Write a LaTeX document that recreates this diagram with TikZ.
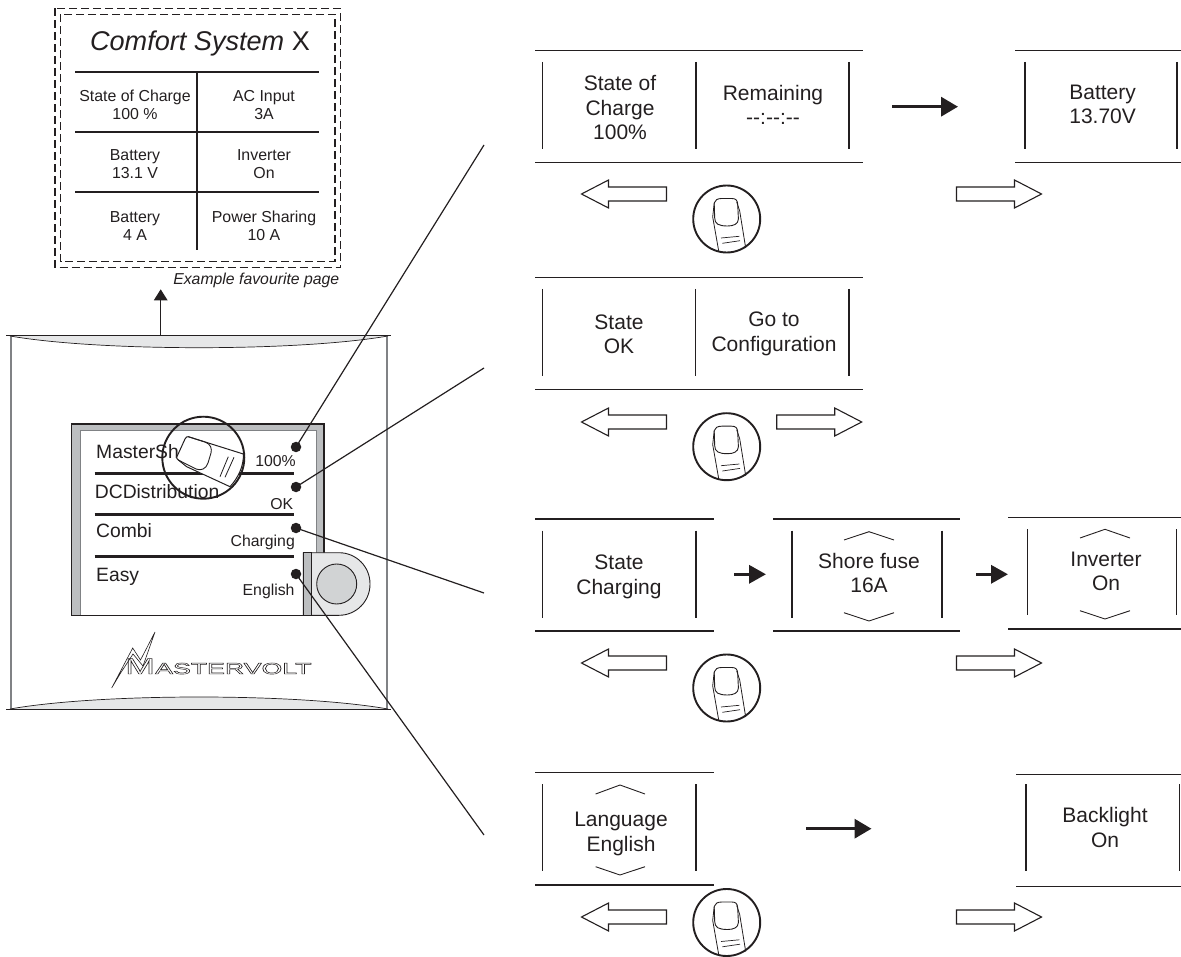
\documentclass[tikz,border=0pt]{standalone}
\usepackage{fontspec}
\usepackage{graphicx}
\setmainfont{Liberation Sans}
\usetikzlibrary{arrows.meta}
\definecolor{ink}{HTML}{231F20}
\definecolor{lensgray}{HTML}{E6E7E8}
\definecolor{bezel}{HTML}{BCBEC0}
\definecolor{knob}{HTML}{D1D3D4}
\definecolor{sidegray}{HTML}{808285}
\newcommand{\outlined}[1]{\special{pdf:code 1 Tr 0.45 w}#1\special{pdf:code 0 Tr}}
\tikzset{
  rule/.style={draw=ink,line width=1.3pt},
  tick/.style={draw=ink,line width=1.3pt},
  chev/.style={draw=ink,line width=0.9pt},
  lbl/.style={inner sep=0pt,align=center,text=ink,font=\fontsize{21}{24.5}\selectfont},
  tbl/.style={inner sep=0pt,align=center,text=ink,font=\fontsize{15.9}{18}\selectfont},
  devl/.style={inner sep=0pt,anchor=base west,text=ink,font=\fontsize{19.3}{22}\selectfont},
  devr/.style={inner sep=0pt,anchor=base east,text=ink,font=\fontsize{15.8}{18}\selectfont},
  blackarrow/.style={draw=ink,line width=3.4pt,-{Triangle[length=17pt,width=19pt,fill=ink]}},
  smallarrow/.style={draw=ink,line width=3.4pt,-{Triangle[length=17pt,width=18pt,fill=ink]}},
  leader/.style={draw=ink,line width=1.2pt},
  dashbox/.style={draw=ink,line width=1.4pt,dash pattern=on 8pt off 4pt},
  tblrule/.style={draw=ink,line width=2.2pt},
  thickrule/.style={draw=ink,line width=3.4pt},
  dot/.style={circle,fill=ink,inner sep=0pt,minimum size=10.5pt},
  openarrow/.pic={
    \draw[ink,line width=1.1pt,fill=white,line join=miter]
      (0,0) -- (27,-14) -- (27,-7) -- (85,-7) -- (85,7) -- (27,7) -- (27,14) -- cycle;
  },
  fingerpic/.pic={
    \draw[ink,line width=1.9pt] (0,0) circle[radius=33.5];
    \draw[ink,line width=0.8pt] (-12.5,-16) -- (-14,-2) -- (-8,32);
    \draw[ink,line width=0.8pt] (10,-17) -- (13,-8) -- (19,29);
    \draw[ink,line width=0.9pt] (-12.5,-16) .. controls (-12,-19) and (-9,-20.5) .. (-5,-20.5)
      -- (5,-20.5) .. controls (9,-20.5) and (10.5,-19) .. (11,-15)
      -- (11.7,0) .. controls (11.5,5) and (7,7) .. (1,7)
      .. controls (-8,7) and (-12,5) .. (-12,-1) -- cycle;
    \draw[ink,line width=0.7pt] (-5.7,19) -- (12.7,17.3);
    \draw[ink,line width=0.7pt] (-4.3,24.3) -- (13.3,21.7);
  }
}
\begin{document}
\begin{tikzpicture}[x=1pt,y=-1pt]
\useasboundingbox (0,0) rectangle (1181,957);

% favourite page
\draw[dashbox] (55,8.3) rectangle (340.7,267.7);
\draw[dashbox] (60.7,14.3) rectangle (335,261.7);
\node[inner sep=0pt,anchor=base,text=ink,font=\fontsize{27.1}{30}\selectfont] (title) at (200,50.7) {\textit{Comfort System} X};
\draw[tblrule] (75,71.7) -- (319.3,71.7);
\draw[tblrule] (75,132) -- (319.3,132);
\draw[tblrule] (75,191.7) -- (319.3,191.7);
\draw[tblrule] (197.3,71.7) -- (197.3,250);
\node[tbl] (t11) at (135,106.5) {\strut State of Charge\\\strut 100 \%};
\node[tbl] (t12) at (264,106.5) {\strut AC Input\\\strut 3A};
\node[tbl] (t21) at (135,165.5) {\strut Battery\\\strut 13.1 V};
\node[tbl] (t22) at (264,165.5) {\strut Inverter\\\strut On};
\node[tbl] (t31) at (135,227.5) {\strut Battery\\\strut 4 A};
\node[tbl] (t32) at (264,227.5) {\strut Power Sharing\\\strut 10 A};
\node[inner sep=0pt,anchor=base east,text=ink,font=\fontsize{15.8}{18}\selectfont\itshape] (cap) at (339.5,285) {Example favourite page};

% device
\coordinate (devtop) at (160.7,335.7);
\coordinate (favbot) at (160.7,289.3);
\draw[ink,line width=1.2pt,-{Triangle[length=11pt,width=13.5pt,fill=ink]}] (devtop) -- (favbot);
\draw[sidegray,line width=1.3pt] (11,336) -- (11,709);
\draw[sidegray,line width=1.3pt] (387,336) -- (387,709);
\fill[lensgray] (10,336) .. controls (100,351.6) and (298,351.6) .. (388,336) -- cycle;
\draw[ink,line width=0.7pt] (10,336) .. controls (100,351.6) and (298,351.6) .. (388,336);
\draw[ink,line width=1.1pt] (6,335.7) -- (391,335.7);
\fill[lensgray] (10,709) .. controls (100,693) and (298,693) .. (388,709) -- cycle;
\draw[ink,line width=0.7pt] (10,709) .. controls (100,693) and (298,693) .. (388,709);
\draw[ink,line width=1.1pt] (6,709.3) -- (391,709.3);

% screen
\draw[ink,line width=1.1pt,fill=bezel] (71.7,424) rectangle (324,615.3);
\draw[sidegray,line width=0.6pt,fill=white] (80,430) rectangle (316,615.3);
\draw[ink,line width=1.1pt] (71.7,615.3) -- (324,615.3);
\node[devl] (m1) at (96,458) {MasterSh};
\node[devl] (m2) at (94.7,498) {DCDistribution};
\node[devl] (m3) at (96,537) {Combi};
\node[devl] (m4) at (96,581.7) {Easy};
\node[devr] (v1) at (296,467) {100\%};
\node[devr] (v2) at (293.3,509) {OK};
\node[devr] (v3) at (295,546.7) {Charging};
\node[devr] (v4) at (294.7,595) {English};
\draw[thickrule] (94.7,473.3) -- (293.5,473.3);
\draw[thickrule] (94.7,514.3) -- (293.5,514.3);
\draw[thickrule] (94.7,556.3) -- (293.5,556.3);

% button
\path[draw=ink,line width=0.9pt,fill=lensgray] (303.3,552.7) [rounded corners=31pt] -- (370,552.7) -- (370,615.3) [sharp corners] -- (303.3,615.3) -- cycle;
\draw[ink,line width=0.6pt,fill=bezel] (303.3,552.7) rectangle (311.3,615.3);
\node[circle,draw=ink,line width=0.9pt,fill=knob,minimum size=40pt,inner sep=0pt] (knobc) at (336.7,584) {};

% pressing finger
\draw[ink,line width=1pt,fill=white] (188.3,436.7) -- (243.3,454) .. controls (244,466) and (238,478) .. (230,486.7) -- (186.7,466.7) -- (178.3,460) .. controls (176.5,459) and (176.5,458) .. (177,456.5) -- (185,439) .. controls (186,437) and (187,436.5) .. (188.3,436.7) -- cycle;
\draw[ink,line width=0.9pt] (188.3,436.7) -- (205,442) .. controls (211,444) and (212,449) .. (211,453) -- (208,463) .. controls (206,469) and (201,471) .. (196,469) -- (178.3,460);
\draw[ink,line width=0.8pt] (220,476.7) -- (228.3,456.7);
\draw[ink,line width=0.8pt] (225,477.3) -- (234,457.3);
\draw[ink,line width=1.9pt] (203.3,457.7) circle[radius=41];

% logo
\path[draw=ink,line width=0.6pt,fill=white] (111.7,688) -- (132.7,648) -- (140.5,660) -- (155,632) -- (143,666) -- (133,654) -- (120,674) -- cycle;
\node[inner sep=0pt,anchor=base west,text=ink,font=\fontsize{22.3}{24}\selectfont] (logoM) at (125,674) {\scalebox{1.6}[1]{\outlined{M}}};
\node[inner sep=0pt,anchor=base west,text=ink,font=\fontsize{15.8}{18}\selectfont] (logoT) at (155,674) {\scalebox{1.69}[1]{\outlined{ASTERVOLT}}};

% leaders
\node[dot] (d1) at (296,447) {};
\node[dot] (d2) at (296,487) {};
\node[dot] (d3) at (296,528) {};
\node[dot] (d4) at (296,574) {};
\coordinate (e1) at (484,145);
\coordinate (e2) at (484,368);
\coordinate (e3) at (484,593);
\coordinate (e4) at (484,835);
\draw[leader] (d1.center) -- (e1);
\draw[leader] (d2.center) -- (e2);
\draw[leader] (d3.center) -- (e3);
\draw[leader] (d4.center) -- (e4);

% panel 1
\draw[rule] (535,50.3) -- (862.5,50.3);
\draw[rule] (535,162.3) -- (862.5,162.3);
\foreach \x in {542.7,696,849} \draw[tick] (\x,62) -- (\x,148.7);
\node[lbl] (p1a) at (620,110.5) {\strut State of\\\strut Charge\\\strut 100\%};
\node[lbl] (p1b) at (773,107.5) {\strut Remaining\\\strut {-}{-}:{-}{-}:{-}{-}};
\coordinate (a1s) at (892,106.7); \coordinate (a1e) at (958,106.7);
\draw[blackarrow] (a1s) -- (a1e);
\draw[rule] (1015,50.3) -- (1181,50.3);
\draw[rule] (1015,162.3) -- (1181,162.3);
\foreach \x in {1025,1177} \draw[tick] (\x,62) -- (\x,148.7);
\node[lbl] (p1c) at (1102.6,106.5) {\strut Battery\\\strut 13.70V};
\pic at (581.5,194) {openarrow};
\pic[xscale=-1] at (1041.5,194) {openarrow};
\pic at (726.7,219) {fingerpic};

% panel 2
\draw[rule] (535,277.7) -- (862.5,277.7);
\draw[rule] (535,389.7) -- (862.5,389.7);
\foreach \x in {542.7,695.7,849} \draw[tick] (\x,289) -- (\x,375.7);
\node[lbl] (p2a) at (619,336.5) {\strut State\\\strut OK};
\node[lbl] (p2b) at (774,334) {\strut Go to\\\strut Configuration};
\pic at (581.5,422) {openarrow};
\pic[xscale=-1] at (861.7,422) {openarrow};
\pic at (726.7,446.7) {fingerpic};

% panel 3
\draw[rule] (535,519) -- (713.5,519);
\draw[rule] (535,631) -- (713.5,631);
\foreach \x in {542.5,696} \draw[tick] (\x,530.7) -- (\x,617.7);
\node[lbl] (p3a) at (619,577) {\strut State\\\strut Charging};
\coordinate (a3s) at (734,574.3); \coordinate (a3e) at (766,574.3);
\draw[smallarrow] (a3s) -- (a3e);
\draw[rule] (773,519) -- (960,519);
\draw[rule] (773,631) -- (960,631);
\foreach \x in {792,942} \draw[tick] (\x,530.7) -- (\x,617.7);
\draw[chev] (844,540) -- (869,531.7) -- (894,540);
\draw[chev] (844,612.7) -- (869,621) -- (894,612.7);
\node[lbl] (p3b) at (869,575.5) {\strut Shore fuse\\\strut 16A};
\coordinate (a3t) at (976,574.3); \coordinate (a3u) at (1008,574.3);
\draw[smallarrow] (a3t) -- (a3u);
\draw[rule] (1008,517.3) -- (1181,517.3);
\draw[rule] (1008,629) -- (1181,629);
\foreach \x in {1027.5,1176.5} \draw[tick] (\x,529) -- (\x,615);
\draw[chev] (1080,538) -- (1105,529.3) -- (1130,538);
\draw[chev] (1080,610.7) -- (1105,619) -- (1130,610.7);
\node[lbl] (p3c) at (1106,573.5) {\strut Inverter\\\strut On};
\pic at (581.5,663) {openarrow};
\pic[xscale=-1] at (1041.5,663) {openarrow};
\pic at (726.7,688) {fingerpic};

% panel 4
\draw[rule] (535,772.7) -- (714,772.7);
\draw[rule] (535,885) -- (714,885);
\foreach \x in {542.5,696} \draw[tick] (\x,784) -- (\x,870.7);
\draw[chev] (595.6,794) -- (620,785) -- (645,794);
\draw[chev] (595.6,866.7) -- (620,875) -- (645,866.7);
\node[lbl] (p4a) at (621,834) {\strut Language\\\strut English};
\coordinate (a4s) at (806,828.7); \coordinate (a4e) at (871.5,828.7);
\draw[blackarrow] (a4s) -- (a4e);
\draw[rule] (1016,774.3) -- (1181,774.3);
\draw[rule] (1016,886.7) -- (1181,886.7);
\foreach \x in {1026,1179.4} \draw[tick] (\x,784) -- (\x,871);
\node[lbl] (p4b) at (1105,830) {\strut Backlight\\\strut On};
\pic at (581.5,917) {openarrow};
\pic[xscale=-1] at (1041.5,917) {openarrow};
\pic at (726.7,922.5) {fingerpic};
\end{tikzpicture}
\end{document}
